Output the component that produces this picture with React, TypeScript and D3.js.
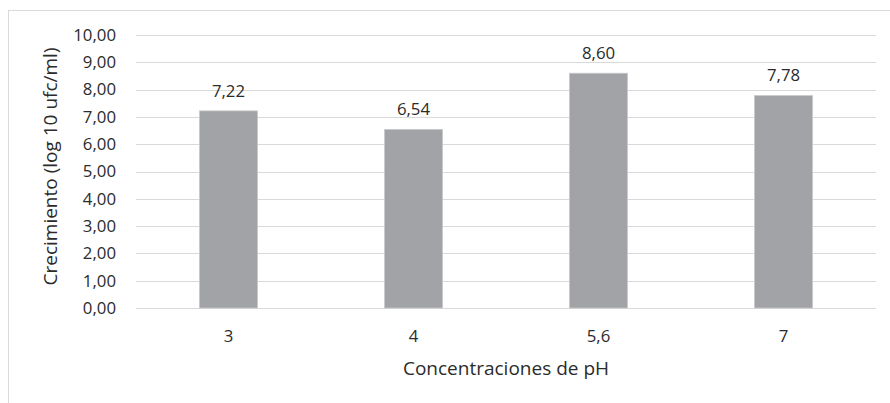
import React from "react";
import * as d3 from "d3";

const categories = ["3", "4", "5,6", "7"];
const values = [7.22, 6.54, 8.6, 7.78];
const yTicks = [0, 1, 2, 3, 4, 5, 6, 7, 8, 9, 10];
const yTitle = "Crecimiento (log 10 ufc/ml)";
const xTitle = "Concentraciones de pH";

const W = 890;
const H = 403;
const m = { left: 136, right: 14, top: 35, bottom: 95 };
const FONT = "'Open Sans', sans-serif";
const TXT = "#2b2b2b";

const fmt = (v: number) => v.toFixed(2).replace(".", ",");

export default function App() {
  const x = d3
    .scaleBand<string>()
    .domain(categories)
    .range([m.left, W - m.right])
    .paddingInner(0.6865)
    .paddingOuter(0.343);
  const y = d3.scaleLinear().domain([0, 10]).range([H - m.bottom, m.top]);
  const band = (W - m.right - m.left) / categories.length;

  return (
    <svg
      width={W}
      height={H}
      style={{ position: "absolute", left: 0, top: 0, background: "#fff" }}
      fontFamily={FONT}
    >
      <rect x={8.5} y={10.5} width={W + 10} height={H + 10} fill="#fff" stroke="#d9d9d9" strokeWidth={1} />
      {yTicks.map((t) => (
        <g key={t}>
          <line x1={m.left} x2={W - m.right} y1={Math.round(y(t)) + 0.5} y2={Math.round(y(t)) + 0.5} stroke="#d9d9d9" strokeWidth={1.2} />
          <text x={116} y={y(t)} dy="0.35em" textAnchor="end" fontSize={16.8} fill={TXT}>
            {fmt(t)}
          </text>
        </g>
      ))}
      {categories.map((c, i) => (
        <g key={c}>
          <rect
            x={x(c)!}
            y={y(values[i])}
            width={x.bandwidth()}
            height={y(0) - y(values[i])}
            fill="#a2a3a6"
            stroke="#c8c8ca"
            strokeWidth={0.8}
          />
          <text
            x={x(c)! + x.bandwidth() / 2}
            y={y(values[i]) - 20}
            dy="0.35em"
            textAnchor="middle"
            fontSize={16.8}
            fill={TXT}
          >
            {fmt(values[i])}
          </text>
          <text
            x={m.left + band * (i + 0.5)}
            y={336}
            dy="0.35em"
            textAnchor="middle"
            fontSize={16.8}
            fill={TXT}
          >
            {c}
          </text>
        </g>
      ))}
      <text x={(m.left + W - m.right) / 2} y={368} dy="0.35em" textAnchor="middle" fontSize={19} fill={TXT}>
        {xTitle}
      </text>
      <text
        transform={`translate(50, ${(y(0) + y(10)) / 2 - 5}) rotate(-90)`}
        dy="0.35em"
        textAnchor="middle"
        fontSize={19}
        fill={TXT}
      >
        {yTitle}
      </text>
    </svg>
  );
}
